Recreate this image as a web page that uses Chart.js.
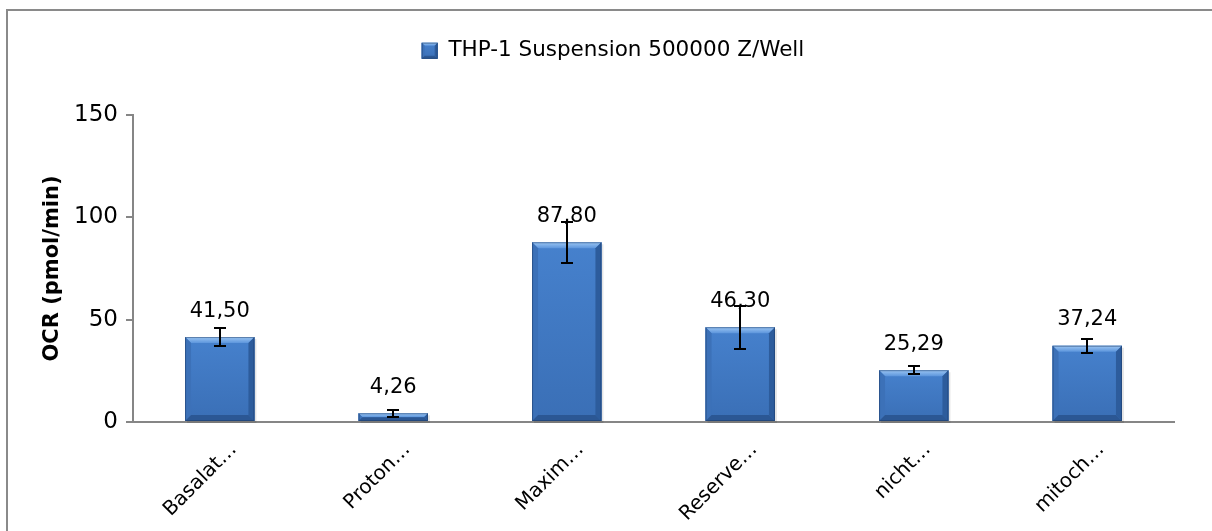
<!DOCTYPE html>
<html><head><meta charset="utf-8">
<script src="https://cdn.jsdelivr.net/npm/chart.js@4.4.1/dist/chart.umd.min.js"></script>
<style>html,body{margin:0;padding:0;background:#fff}#wrap{width:1212px;height:531px;position:relative}</style>
</head><body><div id="wrap"><canvas id="c" width="1212" height="531"></canvas></div>
<script>
const categories = ['Basalat…', 'Proton…', 'Maxim…', 'Reserve…', 'nicht…', 'mitoch…'];
const seriesName = 'THP-1 Suspension 500000 Z/Well';
const values = [41.50, 4.26, 87.80, 46.30, 25.29, 37.24];
const errors = [4.4, 1.6, 10.0, 10.5, 2.0, 3.4];
const yTicks = [0, 50, 100, 150];
const yTitle = 'OCR (pmol/min)';

const FONT = "'DejaVu Sans', sans-serif";
const AXIS_GREY = '#868686';
const BAR_BLUE = '#3d74bd';

function fmt(v) { return v.toFixed(2).replace('.', ','); }

function bevelRect(ctx, l, t, w, h, bvMax) {
  const r = l + w, b = t + h;
  const bv = Math.min(bvMax, h / 2, w / 2);
  const g = ctx.createLinearGradient(0, t, 0, b);
  g.addColorStop(0, '#4681cd');
  g.addColorStop(1, '#3a6fb6');
  ctx.fillStyle = g;
  ctx.fillRect(l, t, w, h);
  ctx.beginPath(); ctx.moveTo(l, t); ctx.lineTo(r, t); ctx.lineTo(r - bv, t + bv); ctx.lineTo(l + bv, t + bv); ctx.closePath();
  const gt = ctx.createLinearGradient(0, t, 0, t + bv);
  gt.addColorStop(0, '#9cc6f3'); gt.addColorStop(1, '#5c95dc');
  ctx.fillStyle = gt; ctx.fill();
  ctx.beginPath(); ctx.moveTo(l, t); ctx.lineTo(l + bv, t + bv); ctx.lineTo(l + bv, b - bv); ctx.lineTo(l, b); ctx.closePath();
  ctx.fillStyle = '#3c71b8'; ctx.fill();
  ctx.beginPath(); ctx.moveTo(r, t); ctx.lineTo(r - bv, t + bv); ctx.lineTo(r - bv, b - bv); ctx.lineTo(r, b); ctx.closePath();
  ctx.fillStyle = '#2d5c9c'; ctx.fill();
  ctx.beginPath(); ctx.moveTo(l, b); ctx.lineTo(l + bv, b - bv); ctx.lineTo(r - bv, b - bv); ctx.lineTo(r, b); ctx.closePath();
  ctx.fillStyle = '#2b5794'; ctx.fill();
  ctx.strokeStyle = 'rgba(25,55,100,0.5)'; ctx.lineWidth = 1;
  ctx.strokeRect(l + 0.5, t + 0.5, w - 1, h - 1);
}

const frame = {
  id: 'frame',
  beforeDraw(chart) {
    const ctx = chart.ctx;
    ctx.save();
    ctx.fillStyle = '#fff';
    ctx.fillRect(0, 0, chart.width, chart.height);
    ctx.strokeStyle = '#8a8a8a'; ctx.lineWidth = 2;
    ctx.strokeRect(7, 10, chart.width + 20, chart.height + 20);
    ctx.restore();
  }
};

const legendSpacer = {
  id: 'legendSpacer',
  beforeLayout(chart) {
    const lg = chart.legend;
    if (lg && !lg._patched) {
      const orig = lg.fit.bind(lg);
      lg.fit = function () { orig(); this.height = 115; };
      lg._patched = true;
    }
  },
  afterLayout(chart) {
    const lg = chart.legend;
    if (lg) { lg.left += 26; lg.right += 26; }
  }
};

const bevel = {
  id: 'bevel',
  beforeDatasetsDraw(chart) {
    const ctx = chart.ctx; ctx.save();
    chart.getDatasetMeta(0).data.forEach(el => {
      const p = el.getProps(['x', 'y', 'base', 'width'], true);
      const t = Math.min(p.y, p.base), h = Math.abs(p.base - p.y);
      ctx.fillStyle = 'rgba(0,0,0,0.10)';
      ctx.fillRect(p.x - p.width / 2 + 2, t + 2, p.width, h);
    });
    ctx.restore();
  },
  afterDatasetsDraw(chart) {
    const ctx = chart.ctx; ctx.save();
    chart.getDatasetMeta(0).data.forEach(el => {
      const p = el.getProps(['x', 'y', 'base', 'width'], true);
      const t = Math.min(p.y, p.base), h = Math.abs(p.base - p.y);
      bevelRect(ctx, p.x - p.width / 2, t, p.width, h, 6);
    });
    ctx.restore();
  },
  afterDraw(chart) {
    const lg = chart.legend;
    if (!lg || !lg.legendHitBoxes || !lg.legendHitBoxes.length) return;
    const hb = lg.legendHitBoxes[0];
    const ctx = chart.ctx; ctx.save();
    const bs = 16;
    bevelRect(ctx, hb.left, hb.top + (hb.height - bs) / 2, bs, bs, 3);
    ctx.restore();
  }
};

const errorBars = {
  id: 'errorBars',
  afterDatasetsDraw(chart) {
    const ctx = chart.ctx, ys = chart.scales.y;
    ctx.save();
    ctx.strokeStyle = '#000'; ctx.lineWidth = 2;
    chart.getDatasetMeta(0).data.forEach((el, i) => {
      const v = values[i], e = errors[i];
      const yHi = Math.round(ys.getPixelForValue(v + e)), yLo = Math.round(ys.getPixelForValue(v - e));
      const x = Math.round(el.x);
      ctx.beginPath();
      ctx.moveTo(x, yHi); ctx.lineTo(x, yLo);
      ctx.moveTo(x - 6, yHi); ctx.lineTo(x + 6, yHi);
      ctx.moveTo(x - 6, yLo); ctx.lineTo(x + 6, yLo);
      ctx.stroke();
    });
    ctx.restore();
  }
};

const dataLabels = {
  id: 'dataLabels',
  afterDatasetsDraw(chart) {
    const ctx = chart.ctx;
    ctx.save();
    ctx.font = '21px ' + FONT;
    ctx.fillStyle = '#000';
    ctx.textAlign = 'center';
    ctx.textBaseline = 'middle';
    chart.getDatasetMeta(0).data.forEach((el, i) => {
      ctx.fillText(fmt(values[i]), el.x, el.y - 26);
    });
    ctx.restore();
  }
};

Chart.defaults.font.family = FONT;
Chart.defaults.color = '#000';

new Chart(document.getElementById('c'), {
  type: 'bar',
  data: {
    labels: categories,
    datasets: [{
      label: seriesName,
      data: values,
      backgroundColor: BAR_BLUE,
      borderWidth: 0,
      categoryPercentage: 0.8,
      barPercentage: 0.5
    }]
  },
  options: {
    responsive: false,
    animation: false,
    devicePixelRatio: 1,
    layout: { padding: { left: 0, top: 0, right: 38, bottom: 0 } },
    plugins: {
      legend: {
        position: 'top',
        labels: { boxWidth: 16, boxHeight: 16, padding: 40, font: { size: 21.5 }, color: '#000' }
      },
      tooltip: { enabled: false }
    },
    scales: {
      x: {
        grid: { display: false, drawTicks: false },
        border: { display: true, color: AXIS_GREY, width: 2 },
        ticks: { font: { size: 20 }, minRotation: 45, maxRotation: 45, autoSkip: false, padding: 16, labelOffset: 14, color: '#000' },
        afterFit(s) { s.height = 531 - 422; }
      },
      y: {
        min: 0, max: 150,
        afterBuildTicks(s) { s.ticks = yTicks.map(v => ({ value: v })); },
        grid: { drawOnChartArea: false, drawTicks: true, tickLength: 7, color: AXIS_GREY, lineWidth: 2 },
        border: { display: true, color: AXIS_GREY, width: 2 },
        ticks: { font: { size: 23 }, padding: 8, color: '#000' },
        title: { display: true, text: yTitle, font: { size: 21, weight: 'bold' }, color: '#000', padding: { top: 40, bottom: 0 } },
        afterFit(s) { s.width = 133; }
      }
    }
  },
  plugins: [frame, legendSpacer, bevel, errorBars, dataLabels]
});
</script></body></html>
